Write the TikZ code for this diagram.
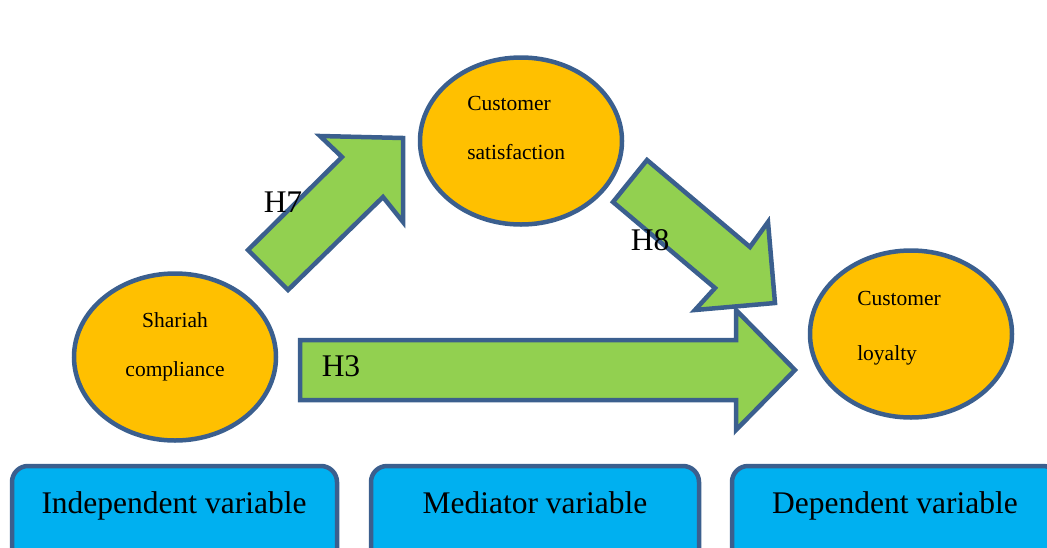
\documentclass[tikz,border=0pt]{standalone}
\usepackage{fontspec}
\setmainfont{Liberation Serif}
\usetikzlibrary{shapes.geometric}
\definecolor{gold}{HTML}{FFC000}
\definecolor{leaf}{HTML}{92D050}
\definecolor{sky}{HTML}{00B0F0}
\definecolor{rim}{HTML}{3B5F8E}
\begin{document}
\begin{tikzpicture}[x=1pt, y=-1pt, line width=4.5pt, line join=miter,
    var/.style={ellipse, draw=rim, fill=gold, minimum width=202pt, minimum height=167pt, inner sep=0pt},
    small/.style={font=\fontsize{21.5}{24}\selectfont, inner sep=0pt},
    big/.style={anchor=base, font=\fontsize{31.5}{36}\selectfont, inner sep=0pt},
    hyp/.style={draw=rim, fill=leaf},
    kind/.style={draw=rim, fill=sky, rounded corners=16pt}]
        \path[use as bounding box, clip] (0,0) rectangle (1047,547);
        % hypotheses
        \draw[hyp] (248,250) -- (342,157) -- (320,136) -- (403,138) -- (403,222) -- (383,197) -- (288,290) -- cycle;
        \draw[hyp] (647,160) -- (750,247) -- (768,222) -- (775,303) -- (695,310) -- (715,288) -- (613,202) -- cycle;
        \draw[hyp] (300,340) -- (736,340) -- (736,310) -- (795,370) -- (736,430) -- (736,400) -- (300,400) -- cycle;
        \node[big] (h7) at (283,212) {H7};
        \node[big] (h8) at (650,250) {H8};
        \node[big] (h3) at (341,376) {H3};
        % variables
        \node[var] (sc) at (175,357) {};
        \node[var] (cs) at (521,141) {};
        \node[var] (cl) at (911,334) {};
        \node[small, anchor=base] (sc1) at (175,327) {Shariah};
        \node[small, anchor=base] (sc2) at (175,376) {compliance};
        \node[small, anchor=base west] (cs1) at (465,110) {Customer};
        \node[small, anchor=base west] (cs2) at (465,159) {satisfaction};
        \node[small, anchor=base west] (cl1) at (855,305) {Customer};
        \node[small, anchor=base west] (cl2) at (855,360) {loyalty};
        % legend
        \draw[kind] (12,466) rectangle (337,580);
        \draw[kind] (371,466) rectangle (699,580);
        \draw[kind] (732,466) rectangle (1059,580);
        \node[big] (iv) at (174,513) {Independent variable};
        \node[big] (mv) at (535,513) {Mediator variable};
        \node[big] (dv) at (895,513) {Dependent variable};
    \end{tikzpicture}
\end{document}
